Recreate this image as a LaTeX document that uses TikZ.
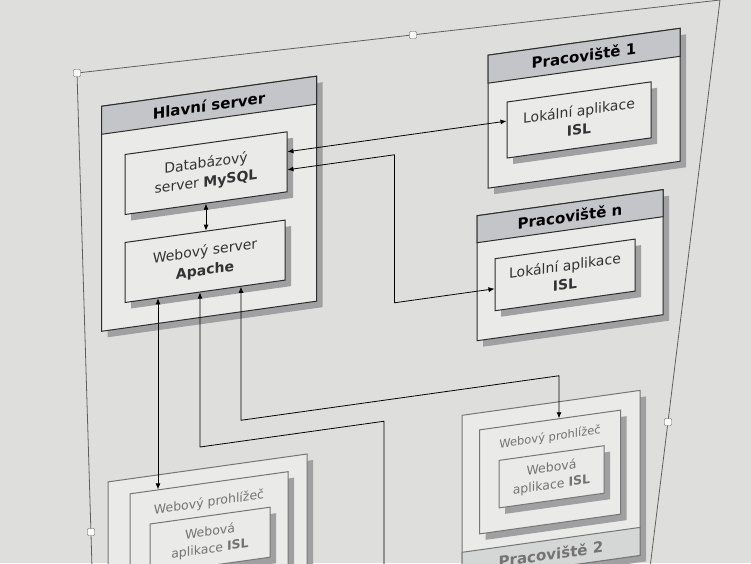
\documentclass[tikz,border=0pt]{standalone}
\usepackage{fontspec}
\setmainfont{DejaVu Sans}
\usepackage{tikz}
\usetikzlibrary{arrows.meta,positioning,shadows}
\definecolor{pozadi}{RGB}{222,223,221}
\definecolor{boxfill}{RGB}{234,234,232}
\definecolor{headgray}{RGB}{196,197,200}
\definecolor{shadowgray}{RGB}{160,160,162}
\definecolor{linegray}{RGB}{45,45,45}
\definecolor{fadegray}{RGB}{118,118,118}
\definecolor{framegray}{RGB}{95,95,95}

\begin{document}
\begin{tikzpicture}[
        x=1pt, y=1pt,
        box/.style={draw=linegray, line width=1pt, fill=boxfill, align=center, text=black!80,
            font=\fontsize{14}{19}\selectfont,
            drop shadow={shadow xshift=6pt, shadow yshift=-6pt, fill=shadowgray, opacity=1}},
        head/.style={draw=linegray, line width=1pt, fill=headgray, minimum height=28pt,
            font=\fontsize{15}{18}\selectfont\bfseries},
        fadebox/.style={box, draw=fadegray, text=black!55, font=\fontsize{12.5}{17}\selectfont},
        fadehead/.style={head, draw=fadegray, fill=headgray!55!boxfill, text=black!55},
        titl/.style={inner sep=2pt, text=black!55, font=\fontsize{12.5}{15}\selectfont},
        arr/.style={<->, >={Latex[length=6pt, width=5pt]}, line width=0.8pt},
        handle/.style={draw=framegray, fill=white!85!pozadi, minimum size=7pt, inner sep=0pt, rounded corners=1pt}
    ]
        % 背景
        \useasboundingbox (0,0) rectangle (751,-563);
        \clip (0,0) rectangle (751,-563);
        \fill[pozadi] (0,0) rectangle (751,-563);

        % 选择框
        \coordinate (r-tl) at (77,-73);
        \coordinate (r-tr) at (720,0);
        \coordinate (r-br) at (646,-600);
        \coordinate (r-bl) at (93,-600);
        \draw[framegray, line width=0.8pt] (r-bl) -- (r-tl) -- (r-tr) -- (r-br);
        \node[handle] (h1) at (r-tl) {};
        \node[handle] (h2) at (413,-35) {};
        \node[handle] (h3) at (668,-422) {};
        \node[handle] (h4) at (91,-532) {};

        \begin{scope}[cm={1,0.14,0,1,(0,0)}, transform shape]
        % 主服务器
        \node[box, minimum width=215pt, minimum height=225pt] (hs) at (209,-233) {};
        \node[head, minimum width=215pt, anchor=north] (hs-t) at (hs.north) {Hlavní server};
        \node[box, minimum width=162pt, minimum height=60pt] (db) at (206,-202) {Databázový\\server \textbf{MySQL}};
        \node[box, minimum width=160pt, minimum height=60pt] (web) at (205,-290) {Webový server\\\textbf{Apache}};

        % 工作站
        \node[box, minimum width=192pt, minimum height=133pt] (p1) at (584,-190) {};
        \node[head, minimum width=192pt, anchor=north] (p1-t) at (p1.north) {Pracoviště 1};
        \node[box, minimum width=144pt, minimum height=56pt] (la1) at (579,-201) {Lokální aplikace\\\textbf{ISL}};

        \node[box, minimum width=186pt, minimum height=125pt] (pn) at (570,-345) {};
        \node[head, minimum width=186pt, minimum height=27pt, anchor=north] (pn-t) at (pn.north) {Pracoviště n};
        \node[box, minimum width=140pt, minimum height=52pt] (lan) at (565,-354) {Lokální aplikace\\\textbf{ISL}};

        % 浏览器
        \node[fadebox, minimum width=199pt, minimum height=185pt] (pc) at (207.5,-589.5) {};
        \node[fadebox, minimum width=158pt, minimum height=117pt] (wb1) at (209,-570.5) {};
        \node[titl, below=12pt of wb1.north] (wb1-t) {Webový prohlížeč};
        \node[fadebox, minimum width=120pt, minimum height=50pt] (wa1) at (210,-570) {Webová\\aplikace \textbf{ISL}};

        \node[fadebox, minimum width=178pt, minimum height=165pt] (p2) at (551,-562.5) {};
        \node[fadehead, minimum width=178pt, anchor=south] (p2-t) at (p2.south) {Pracoviště 2};
        \node[fadebox, minimum width=141pt, minimum height=104pt] (wb2) at (550,-549) {};
        \node[titl, font=\fontsize{11.5}{14}\selectfont, below=10pt of wb2.north] (wb2-t) {Webový prohlížeč};
        \node[fadebox, minimum width=105pt, minimum height=47.5pt] (wa2) at (551.5,-554) {Webová\\aplikace \textbf{ISL}};

        % 连线
        \draw[arr] (db.south) -- (db.south |- web.north);
        \draw[arr] ([yshift=10pt]db.east) -- ([yshift=9pt]la1.west);
        \draw[arr] ([yshift=-8pt]db.east) -- ++(107,0) |- ([yshift=-4pt]lan.west);

        \coordinate (k1) at ([xshift=-47pt]web.south);
        \draw[arr] (k1) -- (k1 |- wb1.north);
        \coordinate (k2) at (384,-475);
        \coordinate (k2-end) at (384,-660);
        \draw[arr, <-] ([xshift=-5pt]web.south) |- (k2) -- (k2-end);
        \coordinate (k3) at (559,-454);
        \draw[arr] ([xshift=36pt]web.south) |- (k3) -- (k3 |- wb2.north);
        \end{scope}
    \end{tikzpicture}
\end{document}
